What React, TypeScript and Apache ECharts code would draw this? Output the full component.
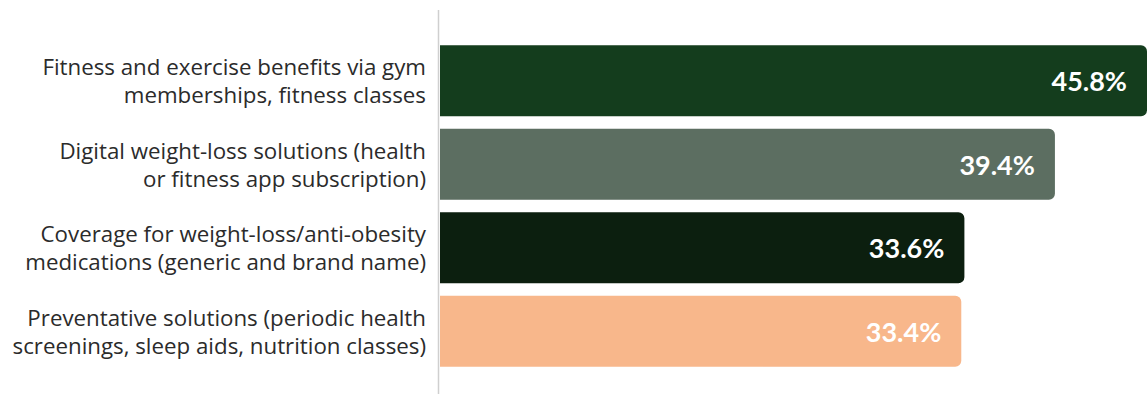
import React, { useEffect, useRef } from "react";
import * as echarts from "echarts";

const categories: string[] = [
  "Fitness and exercise benefits via gym\nmemberships, fitness classes",
  "Digital weight-loss solutions (health\nor fitness app subscription)",
  "Coverage for weight-loss/anti-obesity\nmedications (generic and brand name)",
  "Preventative solutions (periodic health\nscreenings, sleep aids, nutrition classes)",
];
const values: number[] = [45.8, 39.4, 33.6, 33.4];
const barColors: string[] = ["#143d1d", "#5c6e61", "#0c1f0f", "#f8b78b"];

export default function App() {
  const ref = useRef<HTMLDivElement>(null);
  useEffect(() => {
    if (!ref.current) return;
    const chart = echarts.init(ref.current, undefined, { renderer: "svg" });
    chart.setOption({
      animation: false,
      grid: { left: 440, right: 0, top: 39, bottom: 21, containLabel: false },
      xAxis: {
        type: "value",
        min: 0,
        max: 45.3,
        show: false,
      },
      yAxis: {
        type: "category",
        data: categories,
        inverse: true,
        axisLine: { show: false },
        axisTick: { show: false },
        axisLabel: {
          margin: 14,
          align: "right",
          fontFamily: "Open Sans",
          fontSize: 22.3,
          lineHeight: 28,
          color: "#2b2b2b",
        },
      },
      graphic: [
        {
          type: "line",
          shape: { x1: 438.5, y1: 10, x2: 438.5, y2: 394 },
          style: { stroke: "#cfcfcf", lineWidth: 1.5 },
          silent: true,
        },
      ],
      series: [
        {
          type: "bar",
          barWidth: 71,
          clip: true,
          data: values.map((v, i) => ({
            value: v,
            itemStyle: { color: barColors[i], borderRadius: [0, 6, 6, 0] },
          })),
          label: {
            show: true,
            position: "insideRight",
            distance: 20,
            formatter: (p: any) => p.value.toFixed(1) + "%",
            color: "#ffffff",
            fontFamily: "Lato",
            fontWeight: "bold",
            fontSize: 27,
          },
        },
      ],
    });
    return () => chart.dispose();
  }, []);
  return (
    <div
      ref={ref}
      style={{ position: "fixed", left: 0, top: 0, width: 1147, height: 394, background: "#ffffff" }}
    />
  );
}
